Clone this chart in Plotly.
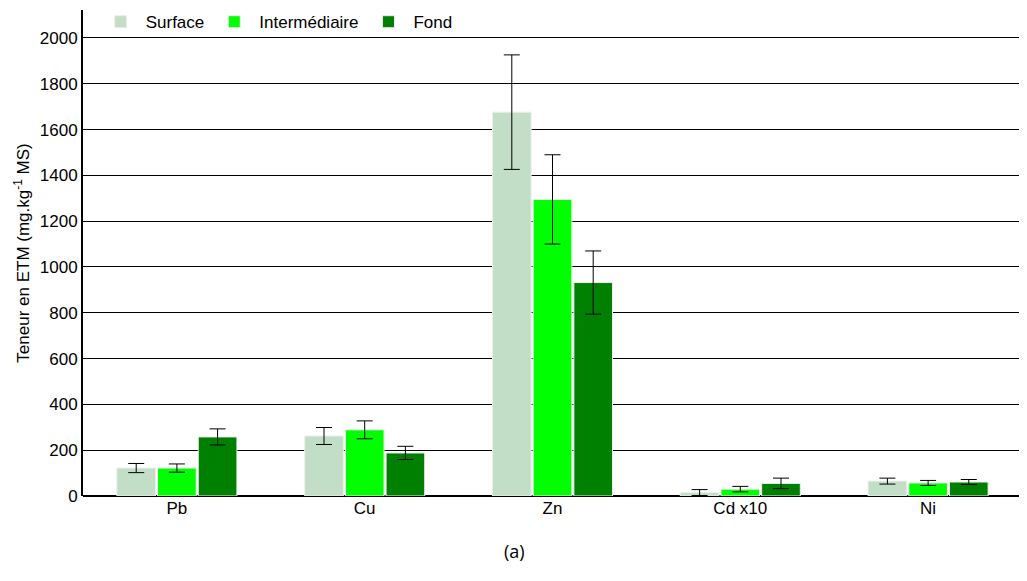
import plotly.graph_objects as go

categories = ["Pb", "Cu", "Zn", "Cd x10", "Ni"]
series_names = ["Surface", "Intermédiaire", "Fond"]
surface = [122, 262, 1676, 15, 65]
surface_err = [20, 37, 250, 13, 13]
intermediaire = [122, 289, 1295, 30, 57]
intermediaire_err = [18, 39, 195, 12, 11]
fond = [258, 188, 932, 55, 61]
fond_err = [35, 29, 138, 23, 11]
colors = ["#C3DEC7", "#00FF00", "#008000"]
y_ticks = [0, 200, 400, 600, 800, 1000, 1200, 1400, 1600, 1800, 2000]

FONT = "Liberation Sans, Arial, sans-serif"

fig = go.Figure()
for name, vals, errs, col in zip(series_names,
                                 [surface, intermediaire, fond],
                                 [surface_err, intermediaire_err, fond_err],
                                 colors):
    fig.add_trace(go.Bar(
        name=name, x=categories, y=vals,
        marker=dict(color=col, line=dict(color="#EEEEEE", width=1)),
        error_y=dict(type="data", array=errs, visible=True,
                     color="black", thickness=1, width=8),
    ))

# page body has an 8px default margin, so the figure is sized to fit inside it
fig.update_layout(
    width=1019, height=573,
    barmode="group", bargap=0.35, bargroupgap=0.05,
    plot_bgcolor="white", paper_bgcolor="white",
    margin=dict(l=75, r=5, t=2, b=85, autoexpand=False),
    font=dict(family=FONT, size=17, color="black"),
    showlegend=True,
    legend=dict(orientation="h", x=0.0135, xanchor="left", y=0.975, yanchor="middle",
                bgcolor="rgba(0,0,0,0)", font=dict(size=17),
                itemwidth=40, tracegroupgap=0),
    xaxis=dict(showline=False, showgrid=False, ticks="", tickfont=dict(size=17),
               automargin=False),
    yaxis=dict(range=[0, 2122], tickvals=y_ticks, showgrid=True,
               gridcolor="black", gridwidth=1,
               zeroline=True, zerolinecolor="black", zerolinewidth=2,
               showline=True, linecolor="black", linewidth=2,
               ticks="", tickfont=dict(size=17), automargin=False,
               title=dict(text="Teneur en ETM (mg.kg<sup>-1</sup> MS)",
                          font=dict(size=17), standoff=6)),
    annotations=[dict(text="(a)", x=0.46, y=-0.113, xref="paper", yref="paper",
                      showarrow=False, xanchor="center", yanchor="middle",
                      font=dict(family="Open Sans, Noto Sans, sans-serif", size=18))],
)

fig.write_html("out.html")
